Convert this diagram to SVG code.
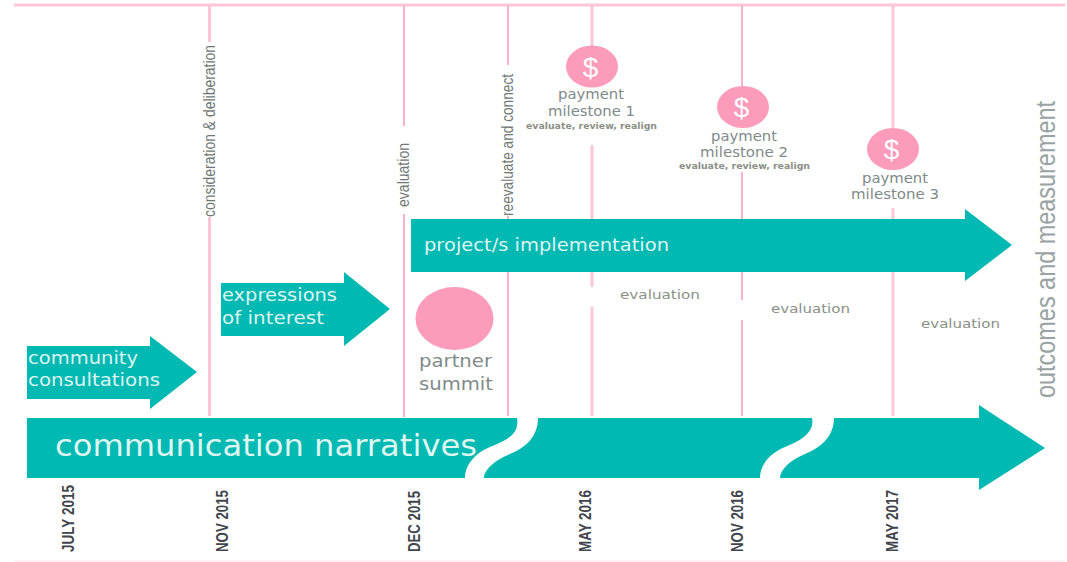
<svg xmlns="http://www.w3.org/2000/svg" width="1067" height="562" viewBox="0 0 1067 562">
<style>
text{font-family:"DejaVu Sans","Liberation Sans",sans-serif}
.teal{fill:#00b9b2}
.pink{fill:#fd9bbb}
.w{fill:#dff5f2}
.g{fill:#7f8a8a}
.r{font-family:"Liberation Sans",Arial,sans-serif}
.d{font-family:"Liberation Sans",Arial,sans-serif;fill:#41464c;font-size:17px;font-weight:bold}
.v{fill:#6f7775;font-size:16px}
.l{stroke:#fdb0c9;stroke-width:2;fill:none}
.h{stroke:#fdc5d8;stroke-width:3;fill:none}
.s{fill:#fff;font-size:28px;text-anchor:middle;font-family:"Liberation Sans",Arial,sans-serif}
.m{font-size:14px}
.t{font-size:8.5px;font-weight:bold;fill:#8a8f85}
.e{font-size:13px;fill:#8a9088}
</style>
<rect width="1067" height="562" fill="#fff"/>
<g id="connectors">
<path class="h" d="M14 5H1065"/>
<path d="M14 561H1065" stroke="#fdeef3" stroke-width="1.500" fill="none"/>
<path class="h" d="M209.500 5V42M209.500 217V416"/>
<path class="l" d="M404 5V126M404 214V417"/>
<path class="l" d="M508 5V65M508 216V416"/>
<path class="h" d="M592 5V46M592 145V287M592 307V416"/>
<path class="l" d="M742 5V86M742 172V300M742 320V416"/>
<path class="h" d="M893 5V128M893 208V416"/>
</g>
<g id="communication-narratives">
<path class="teal" d="M27 418H517C520 435 505 441 490 447C475 453 465 465 465 478H27Z"/>
<path class="teal" d="M538 418H812C815 433 800 441 785 447C770 453 760 465 760 478H484C484 470 495 460 510 454C525 448 538 437 538 418Z"/>
<path class="teal" d="M834 418H979V405L1045 448L979 490V478H780C780 470 790 460 805 454C820 448 834 437 834 418Z"/>
<text class="w" x="55" y="456" font-size="30" textLength="422" lengthAdjust="spacingAndGlyphs">communication narratives</text>
</g>
<g id="community-consultations">
<path class="teal" d="M27 346H150V336L197 372L150 409V399H27Z"/>
<text class="w" x="28" y="364" font-size="17" textLength="110" lengthAdjust="spacingAndGlyphs">community</text>
<text class="w" x="28" y="386" font-size="17" textLength="132" lengthAdjust="spacingAndGlyphs">consultations</text>
</g>
<g id="expressions-of-interest">
<path class="teal" d="M221 283H344V272L390 309L344 346V336H221Z"/>
<text class="w" x="222" y="301" font-size="17" textLength="115" lengthAdjust="spacingAndGlyphs">expressions</text>
<text class="w" x="222" y="324" font-size="17" textLength="102" lengthAdjust="spacingAndGlyphs">of interest</text>
</g>
<g id="project-implementation">
<path class="teal" d="M411 219H965V209L1012 245L965 281V272H411Z"/>
<text class="w" x="424" y="251" font-size="17" textLength="245" lengthAdjust="spacingAndGlyphs">project/s implementation</text>
</g>
<g id="partner-summit">
<ellipse class="pink" cx="454.500" cy="318.500" rx="39" ry="31.500"/>
<text class="g" x="419" y="367" font-size="17" textLength="73" lengthAdjust="spacingAndGlyphs">partner</text>
<text class="g" x="419" y="390" font-size="17" textLength="74" lengthAdjust="spacingAndGlyphs">summit</text>
</g>
<g id="payment-milestone-1">
<ellipse class="pink" cx="592" cy="66.500" rx="26" ry="21"/>
<text class="s" x="590.500" y="77">$</text>
<text class="g m" x="558" y="99" textLength="66" lengthAdjust="spacingAndGlyphs">payment</text>
<text class="g m" x="548" y="116" textLength="87" lengthAdjust="spacingAndGlyphs">milestone 1</text>
<text class="t" x="526" y="129" textLength="131" lengthAdjust="spacingAndGlyphs">evaluate, review, realign</text>
</g>
<g id="payment-milestone-2">
<ellipse class="pink" cx="743" cy="107" rx="26" ry="21"/>
<text class="s" x="741.500" y="117">$</text>
<text class="g m" x="711" y="141" textLength="66" lengthAdjust="spacingAndGlyphs">payment</text>
<text class="g m" x="700" y="157" textLength="88" lengthAdjust="spacingAndGlyphs">milestone 2</text>
<text class="t" x="679" y="169" textLength="131" lengthAdjust="spacingAndGlyphs">evaluate, review, realign</text>
</g>
<g id="payment-milestone-3">
<ellipse class="pink" cx="893" cy="149" rx="26" ry="21"/>
<text class="s" x="891.500" y="159">$</text>
<text class="g m" x="862" y="183" textLength="66" lengthAdjust="spacingAndGlyphs">payment</text>
<text class="g m" x="851" y="199" textLength="88" lengthAdjust="spacingAndGlyphs">milestone 3</text>
</g>
<g id="evaluations">
<text class="e" x="620" y="299" textLength="80" lengthAdjust="spacingAndGlyphs">evaluation</text>
<text class="e" x="771" y="313" textLength="79" lengthAdjust="spacingAndGlyphs">evaluation</text>
<text class="e" x="921" y="328" textLength="79" lengthAdjust="spacingAndGlyphs">evaluation</text>
</g>
<g id="vertical-labels" class="r">
<text class="v r" transform="translate(215 217) rotate(-90)" textLength="172" lengthAdjust="spacingAndGlyphs">consideration &amp; deliberation</text>
<text class="v r" transform="translate(409 207) rotate(-90)" textLength="64" lengthAdjust="spacingAndGlyphs">evaluation</text>
<text class="v r" transform="translate(512.500 216) rotate(-90)" textLength="142" lengthAdjust="spacingAndGlyphs">reevaluate and connect</text>
<text class="r" fill="#9aa3a3" font-size="27" transform="translate(1055 398) rotate(-90)" textLength="297" lengthAdjust="spacingAndGlyphs">outcomes and measurement</text>
</g>
<g id="dates">
<text class="d" transform="translate(74 552) rotate(-90)" textLength="67" lengthAdjust="spacingAndGlyphs">JULY 2015</text>
<text class="d" transform="translate(228 552) rotate(-90)" textLength="62" lengthAdjust="spacingAndGlyphs">NOV 2015</text>
<text class="d" transform="translate(420 552) rotate(-90)" textLength="61" lengthAdjust="spacingAndGlyphs">DEC 2015</text>
<text class="d" transform="translate(591 552) rotate(-90)" textLength="62" lengthAdjust="spacingAndGlyphs">MAY 2016</text>
<text class="d" transform="translate(743 552) rotate(-90)" textLength="62" lengthAdjust="spacingAndGlyphs">NOV 2016</text>
<text class="d" transform="translate(898 552) rotate(-90)" textLength="62" lengthAdjust="spacingAndGlyphs">MAY 2017</text>
</g>
</svg>
